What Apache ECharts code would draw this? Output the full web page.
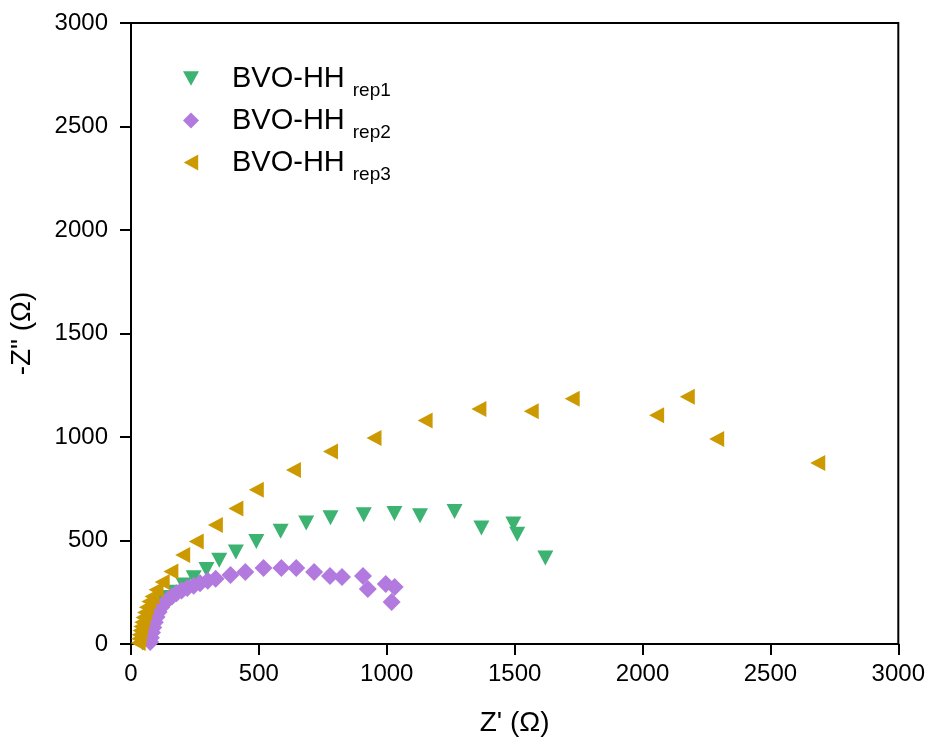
<!DOCTYPE html>
<html>
<head>
<meta charset="utf-8">
<script src="https://cdn.jsdelivr.net/npm/echarts@6/dist/echarts.min.js"></script>
<style>html,body{margin:0;padding:0;background:#fff}#c{width:928px;height:742px}</style>
</head>
<body>
<div id="c"></div>
<script>
var seriesNames = ['BVO-HH rep1', 'BVO-HH rep2', 'BVO-HH rep3'];
var xTicks = [0, 500, 1000, 1500, 2000, 2500, 3000];
var yTicks = [0, 500, 1000, 1500, 2000, 2500, 3000];

var rep1 = [[45,5],[47,25],[50,50],[54,75],[60,100],[68,125],[80,150],[95,175],[115,200],[140,225],[170,250],[205,285],[245,320],[295,360],[345,405],[410,445],[490,495],[585,545],[685,585],[780,610],[910,625],[1030,630],[1130,620],[1265,640],[1370,560],[1495,580],[1510,530],[1620,415]];
var rep2 = [[75,10],[78,30],[82,55],[87,80],[93,105],[100,130],[108,155],[118,178],[130,198],[145,215],[160,230],[178,245],[198,258],[220,270],[245,282],[270,293],[300,305],[331,315],[389,333],[447,348],[518,367],[588,367],[646,367],[716,348],[778,328],[825,324],[907,328],[926,266],[996,290],[1031,275],[1019,203]];
var rep3 = [[28,5],[30,25],[32,45],[35,65],[38,85],[42,105],[47,128],[53,152],[60,178],[70,205],[82,230],[98,262],[122,300],[156,350],[202,430],[255,495],[330,575],[410,655],[490,745],[635,840],[780,930],[950,995],[1150,1080],[1360,1135],[1565,1125],[1725,1185],[2055,1105],[2175,1195],[2290,990],[2685,875]];

var colors = ['#3cb371', '#b27ade', '#cc9a00'];
var downTri = 'path://M0,0 L10,0 L5,9 Z';
var leftTri = 'path://M9,0 L9,10 L0,5 Z';
var symbols = [downTri, 'diamond', leftTri];
var sizes = [[16,15], 18, [15,16]];
var datas = [rep1, rep2, rep3];
var FONT = 'Liberation Sans, Arial, sans-serif';

var chart = echarts.init(document.getElementById('c'), null, {renderer: 'canvas'});
var series = seriesNames.map(function (n, i) {
  return {
    name: n, type: 'scatter', data: datas[i], symbol: symbols[i], symbolSize: sizes[i],
    itemStyle: {color: colors[i], opacity: 1}, clip: true
  };
});
var axisCommon = {
  min: 0, max: 3000, interval: 500,
  axisLine: {show: true, onZero: false, lineStyle: {color: '#000', width: 2}},
  axisTick: {show: true, inside: false, length: 11, lineStyle: {color: '#000', width: 2}},
  splitLine: {show: false},
  axisLabel: {color: '#000', fontSize: 24, fontFamily: FONT},
  nameTextStyle: {color: '#000', fontSize: 28, fontFamily: FONT}
};
chart.setOption({
  animation: false,
  grid: {left: 130, right: 27, top: 23, bottom: 98, show: true, borderColor: '#000', borderWidth: 2, containLabel: false},
  legend: {
    orient: 'vertical', left: 178, top: 59, itemGap: 6, itemWidth: 16, itemHeight: 16,
    data: seriesNames.map(function (n, i) { return {name: n, icon: symbols[i]}; }),
    formatter: function (n) { var p = n.split(' '); return '{a|' + p[0] + '}{b|' + p[1] + '}'; },
    textStyle: {
      color: '#000', fontFamily: FONT, padding: [0, 0, 0, 28],
      rich: {
        a: {fontSize: 29, color: '#000', fontFamily: FONT},
        b: {fontSize: 19, color: '#000', fontFamily: FONT, padding: [24, 0, 0, 8]}
      }
    }
  },
  xAxis: Object.assign({}, axisCommon, {
    type: 'value', name: "Z' (Ω)", nameLocation: 'middle', nameGap: 65,
    axisLabel: Object.assign({}, axisCommon.axisLabel, {margin: 18, formatter: function (v) { return xTicks.indexOf(v) >= 0 ? String(v) : ''; }})
  }),
  yAxis: Object.assign({}, axisCommon, {
    type: 'value', name: '-Z" (Ω)', nameLocation: 'middle', nameGap: 95, nameRotate: 90,
    axisLabel: Object.assign({}, axisCommon.axisLabel, {margin: 23, formatter: function (v) { return yTicks.indexOf(v) >= 0 ? String(v) : ''; }})
  }),
  series: series
});
</script>
</body>
</html>
